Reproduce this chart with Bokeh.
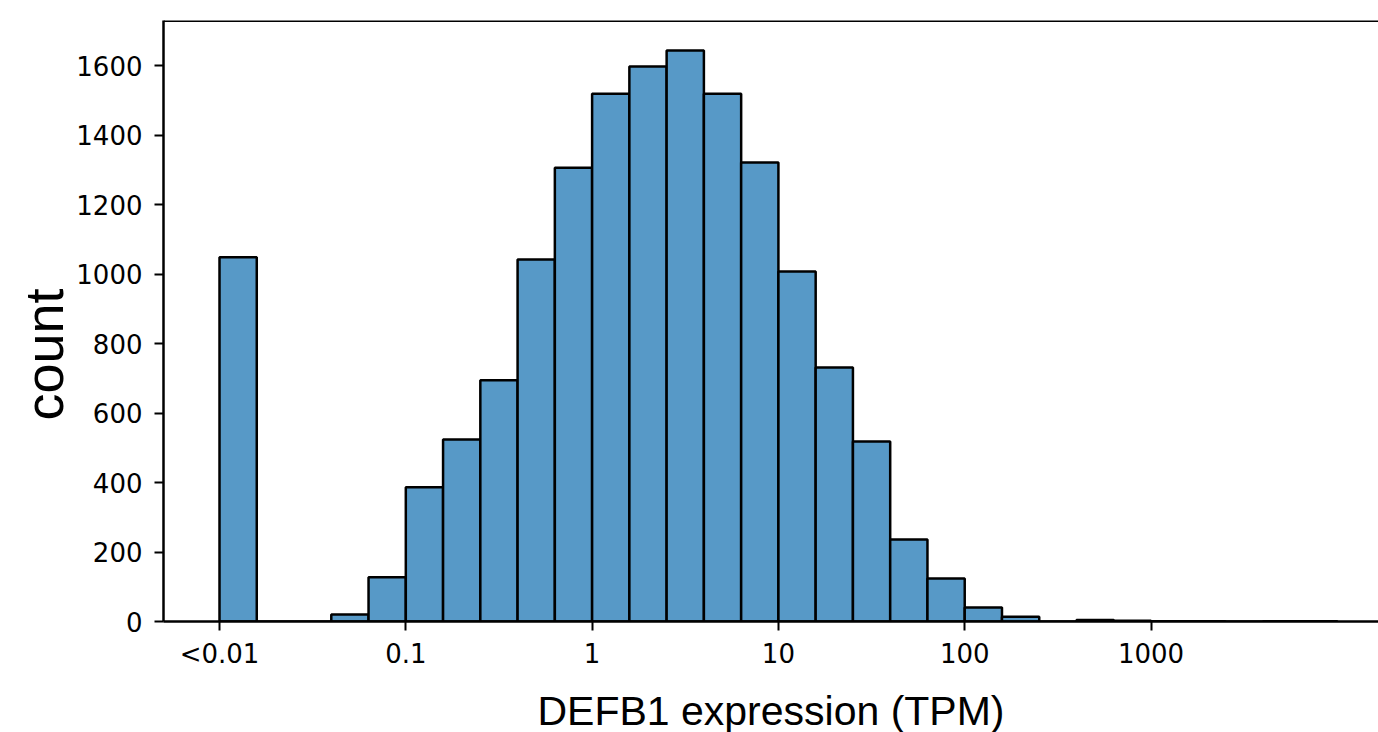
from bokeh.plotting import figure
from bokeh.models import Range1d, FixedTicker, Span, Title
from bokeh.embed import file_html
from bokeh.resources import INLINE

# Histogram of log10(TPM); first bin holds values < 0.01
bin_edges = [-2.0, -1.8, -1.6, -1.4, -1.2, -1.0, -0.8, -0.6, -0.4, -0.2,
             0.0, 0.2, 0.4, 0.6, 0.8, 1.0, 1.2, 1.4, 1.6, 1.8,
             2.0, 2.2, 2.4, 2.6, 2.8, 3.0, 3.2, 3.4, 3.6, 3.8, 4.0]
counts = [1048, 0, 0, 20, 127, 386, 524, 694, 1042, 1306,
          1519, 1597, 1643, 1519, 1321, 1007, 731, 518, 236, 124,
          40, 14, 0, 4, 2, 1, 1, 0, 1, 1]
x_tick_pos = [-2, -1, 0, 1, 2, 3]
x_tick_labels = ["<0.01", "0.1", "1", "10", "100", "1000"]
y_ticks = [0, 200, 400, 600, 800, 1000, 1200, 1400, 1600]
x_title = "DEFB1 expression (TPM)"
y_title = "count"

BAR_FILL = "#5799c7"

p = figure(frame_width=1215, frame_height=601,
           min_border_left=163, min_border_right=0,
           min_border_top=20, min_border_bottom=111,
           x_range=Range1d(-2.3006, 4.221), y_range=Range1d(0, 1729.5),
           output_backend="svg", toolbar_location=None)

p.quad(left=bin_edges[:-1], right=bin_edges[1:], bottom=0, top=counts,
       fill_color=BAR_FILL, line_color="black", line_width=2.5)

p.grid.visible = False
p.outline_line_color = None
p.background_fill_color = "white"
p.border_fill_color = "white"

p.xaxis.ticker = FixedTicker(ticks=x_tick_pos)
p.xaxis.major_label_overrides = {t: l for t, l in zip(x_tick_pos, x_tick_labels)}
p.yaxis.ticker = FixedTicker(ticks=y_ticks)

for ax in (p.xaxis[0], p.yaxis[0]):
    ax.axis_line_width = 2.5
    ax.axis_line_color = "black"
    ax.major_tick_line_width = 2
    ax.major_tick_line_color = "black"
    ax.major_tick_out = 9
    ax.major_tick_in = 0
    ax.minor_tick_out = 0
    ax.minor_tick_in = 0
    ax.major_label_text_font = "DejaVu Sans"
    ax.major_label_text_font_size = "26px"
    ax.major_label_text_color = "black"
p.xaxis.major_label_standoff = 8
p.yaxis.major_label_standoff = 12

p.xaxis.axis_label = x_title
p.xaxis.axis_label_text_font = "Liberation Sans"
p.xaxis.axis_label_text_font_size = "41px"
p.xaxis.axis_label_text_font_style = "normal"
p.xaxis.axis_label_text_color = "black"
p.xaxis.axis_label_standoff = 16

# top spine
p.add_layout(Span(location=1729.5, dimension="width", line_color="black", line_width=3))

# y axis title
p.add_layout(Title(text=y_title, align="left", offset=201,
                   text_font="Liberation Sans", text_font_size="54px",
                   text_font_style="normal", text_color="black",
                   standoff=0), "left")

open("out.html", "w").write(file_html(p, INLINE))
